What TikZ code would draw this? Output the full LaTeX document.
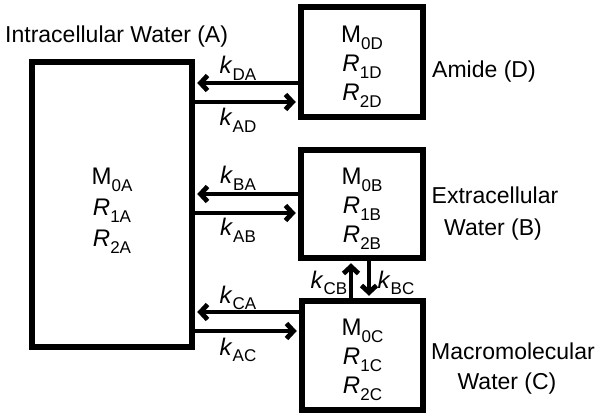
\documentclass[tikz,border=0pt]{standalone}
\usepackage{fontspec}
\setmainfont{Liberation Sans}
\usetikzlibrary{arrows.meta}
\newcommand\subs[2]{#1\raisebox{-0.28em}{\fontsize{17}{17}\selectfont #2}}
\begin{document}
\begin{tikzpicture}[x=1pt,y=-1pt,
  box/.style={draw,line width=5.5pt,inner sep=0pt},
  boxtxt/.style={align=center,font=\fontsize{24}{29}\selectfont,inner sep=0pt},
  lbl/.style={font=\fontsize{23}{23}\selectfont,inner sep=0pt},
  klbl/.style={font=\fontsize{24}{24}\selectfont,inner sep=0pt},
  arr/.style={line width=4.8pt,-{Straight Barb[length=7pt,width=15pt]},shorten >=2.5pt}]
\useasboundingbox (0,0) rectangle (602,418);
% boxes
\node[box,minimum width=160pt,minimum height=285pt] (A) at (112,204.5) {};
\node[box,minimum width=122pt,minimum height=110pt] (D) at (362,62) {};
\node[box,minimum width=122pt,minimum height=108pt] (B) at (362,204) {};
\node[box,minimum width=121pt,minimum height=109pt] (C) at (362.5,355.5) {};
% box texts
\node[boxtxt,font=\fontsize{24}{31}\selectfont] (At) at ([yshift=-6pt]A.center) {\subs{M}{0A}\\\subs{\textit{R}}{1A}\\\subs{\textit{R}}{2A}};
\node[boxtxt] (Dt) at ([yshift=-5pt]D.center) {\subs{M}{0D}\\\subs{\textit{R}}{1D}\\\subs{\textit{R}}{2D}};
\node[boxtxt] (Bt) at ([yshift=-5pt]B.center) {\subs{M}{0B}\\\subs{\textit{R}}{1B}\\\subs{\textit{R}}{2B}};
\node[boxtxt] (Ct) at ([yshift=-4pt]C.center) {\subs{M}{0C}\\\subs{\textit{R}}{1C}\\\subs{\textit{R}}{2C}};
% connector levels
\coordinate (yDA) at (0,83);
\coordinate (yAD) at (0,102);
\coordinate (yBA) at (0,194);
\coordinate (yAB) at (0,213);
\coordinate (yCA) at (0,312);
\coordinate (yAC) at (0,331);
\coordinate (xCB) at (351,0);
\coordinate (xBC) at (369,0);
% arrows
\draw[arr] (D.west |- yDA) -- (A.east |- yDA);
\draw[arr] (A.east |- yAD) -- (D.west |- yAD);
\draw[arr] (B.west |- yBA) -- (A.east |- yBA);
\draw[arr] (A.east |- yAB) -- (B.west |- yAB);
\draw[arr] (C.west |- yCA) -- (A.east |- yCA);
\draw[arr] (A.east |- yAC) -- (C.west |- yAC);
\draw[arr] (C.north -| xCB) -- (B.south -| xCB);
\draw[arr] (B.south -| xBC) -- (C.north -| xBC);
% rate labels
\node[klbl] (kDA) at (238,68) {\subs{\textit{k}}{DA}};
\node[klbl] (kAD) at (238,120) {\subs{\textit{k}}{AD}};
\node[klbl] (kBA) at (238,178) {\subs{\textit{k}}{BA}};
\node[klbl] (kAB) at (238,230) {\subs{\textit{k}}{AB}};
\node[klbl] (kCA) at (238,298) {\subs{\textit{k}}{CA}};
\node[klbl] (kAC) at (238,350) {\subs{\textit{k}}{AC}};
\node[klbl] (kCB) at (329,283) {\subs{\textit{k}}{CB}};
\node[klbl] (kBC) at (396,283) {\subs{\textit{k}}{BC}};
% compartment names
\node[lbl,anchor=base west] (tA) at (5,42) {Intracellular Water (A)};
\node[lbl,anchor=base west] (tD) at (432,77) {Amide (D)};
\node[lbl,anchor=base] (tB1) at (495,203) {Extracellular};
\node[lbl,anchor=base] (tB2) at (493,235) {Water (B)};
\node[lbl,anchor=base] (tC1) at (513,359) {Macromolecular};
\node[lbl,anchor=base] (tC2) at (507,389) {Water (C)};
\end{tikzpicture}
\end{document}
